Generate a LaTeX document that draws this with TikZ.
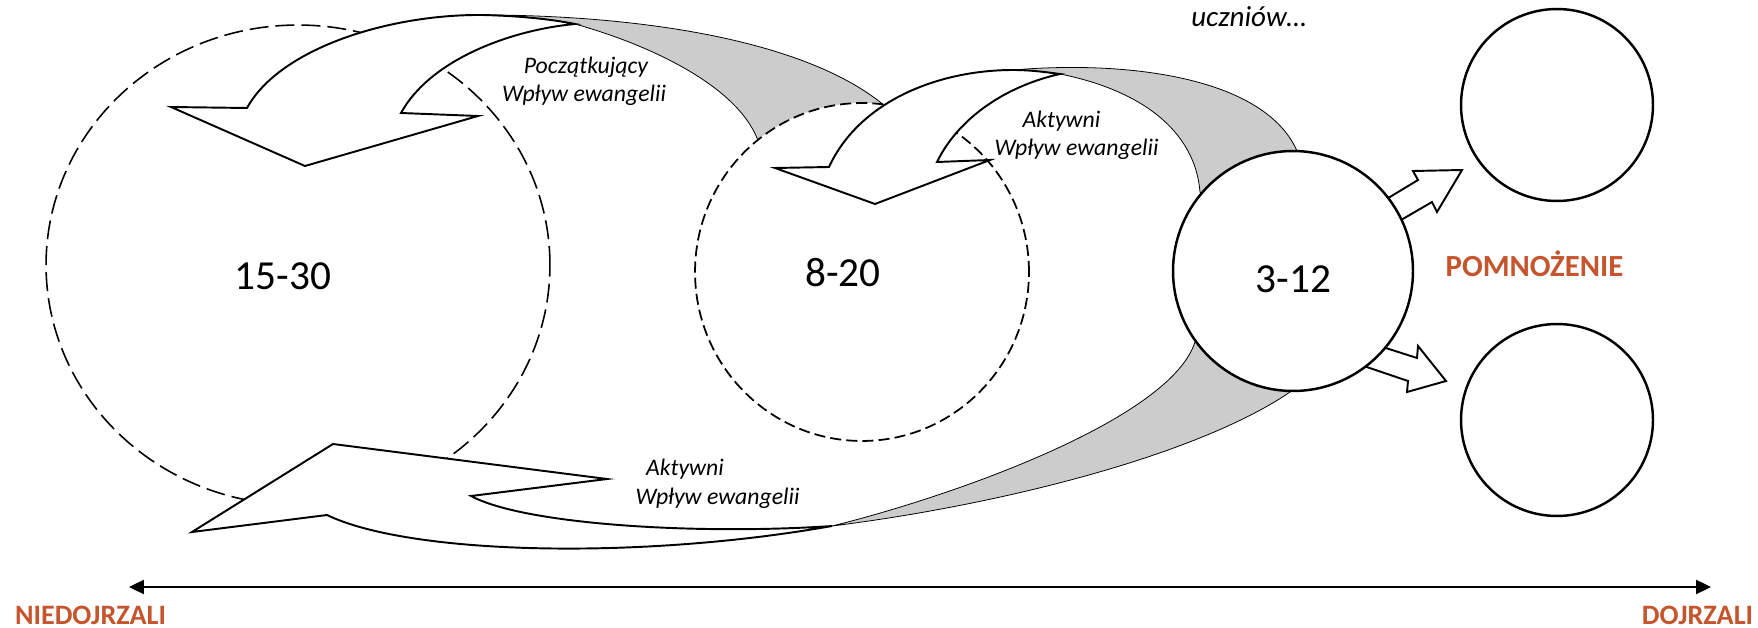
\documentclass[tikz,border=0pt]{standalone}
\usepackage{fontspec}
\setmainfont{Carlito}
\usetikzlibrary{shapes.geometric,arrows.meta}
\definecolor{backgray}{RGB}{204,204,204}
\definecolor{stagered}{RGB}{197,85,45}
\begin{document}
\begin{tikzpicture}[x=0.02cm,y=-0.02cm,
  bandfront/.style={fill=white,draw=black,line width=1.1pt,line join=miter},
  bandback/.style={fill=backgray,draw=black,line width=0.45pt},
  blockarrow/.style={fill=white,draw=black,line width=1.1pt,line join=miter},
  stage/.style={ellipse,inner sep=0pt,fill=white,draw=black},
  bigdash/.style={line width=0.9pt,dash pattern=on 10.8pt off 4pt},
  smalldash/.style={line width=1pt,dash pattern=on 6.3pt off 2.9pt},
  solidstage/.style={line width=1.4pt},
  countlabel/.style={anchor=base,inner sep=0pt,font=\fontsize{23.5}{28}\selectfont},
  flowlabel/.style={anchor=base,inner sep=0pt,font=\fontsize{13.5}{16}\selectfont\itshape},
  poletext/.style={anchor=base,inner sep=0pt,text depth=0pt,text=stagered,font=\fontsize{16}{19}\selectfont\bfseries},
]
\path[use as bounding box] (0,0) rectangle (1758,628);

% first group (widest, dashed)
\node[stage,bigdash,minimum width=10.08cm,minimum height=9.6cm] (grp1) at (298,265) {};

% curved arrow over the first group: back (grey) then front (white)
\path[bandback] (483,15) .. controls (620,15) and (800,35) .. (885,106)
  -- (890,150) -- (770,170) -- (757,138)
  .. controls (735,85) and (650,45) .. (575,24)
  .. controls (550,19) and (520,16) .. (483,15) -- cycle;
\path[bandfront] (171,107) -- (247,108)
  .. controls (280,48) and (390,14) .. (483,15)
  .. controls (520,16) and (550,19) .. (575,24)
  .. controls (510,30) and (430,60) .. (401,113)
  -- (478,116) -- (305,166) -- cycle;

% second group (dashed)
\node[stage,smalldash,minimum width=6.68cm,minimum height=6.76cm] (grp2) at (862,272) {};

% curved arrow over the second group
\path[bandback] (1013,70) .. controls (1130,60) and (1265,78) .. (1297,151)
  -- (1300,190) -- (1225,215) -- (1200,192)
  .. controls (1195,130) and (1140,90) .. (1060,74)
  .. controls (1045,72) and (1030,70) .. (1013,70) -- cycle;
\path[bandfront] (775,168) -- (829,167)
  .. controls (860,100) and (940,70) .. (1013,70)
  .. controls (1030,70) and (1045,72) .. (1060,74)
  .. controls (1010,85) and (960,115) .. (937,162)
  -- (990,160) -- (875,204) -- cycle;

% long arrow returning along the bottom
\path[bandback] (832,526) .. controls (950,497) and (1170,420) .. (1195,342)
  -- (1215,320) -- (1305,365) -- (1293,390)
  .. controls (1200,455) and (1000,505) .. (832,526) -- cycle;
\path[bandfront] (192,532) -- (333,444) -- (607,479) -- (471,496)
  .. controls (525,525) and (700,535) .. (832,526)
  .. controls (640,560) and (410,555) .. (327,515) -- cycle;

% multiplication arrows
\path[blockarrow] (1375,206) -- (1418,180) -- (1413,171) -- (1462,170)
  -- (1437,212) -- (1432,202) -- (1389,227) -- cycle;
\path[blockarrow] (1367,342) -- (1417,358) -- (1418,346) -- (1446,381)
  -- (1407,392) -- (1408,381) -- (1349,361) -- cycle;

% core group and the two new groups
\node[stage,solidstage,minimum size=4.8cm] (grp3) at (1293,271) {};
\node[stage,solidstage,minimum size=3.84cm] (new1) at (1557,105) {};
\node[stage,solidstage,minimum size=3.84cm] (new2) at (1557,420) {};

% counts
\node[countlabel] (n1) at (283,290) {15-30};
\node[countlabel] (n2) at (843,287) {8-20};
\node[countlabel] (n3) at (1293.5,293) {3-12};

% arrow captions
\node[flowlabel] (c1a) at (586,73.5) {Początkujący};
\node[flowlabel] (c1b) at (584,101.5) {Wpływ ewangelii};
\node[flowlabel] (c2a) at (1061.5,128) {Aktywni};
\node[flowlabel] (c2b) at (1076.5,156) {Wpływ ewangelii};
\node[flowlabel] (c3a) at (685,475) {Aktywni};
\node[flowlabel] (c3b) at (717.5,504) {Wpływ ewangelii};
\node[anchor=base,inner sep=0pt,font=\fontsize{16.5}{20}\selectfont\itshape] (top) at (1249,27) {uczniów…};

\node[poletext,font=\fontsize{17.5}{21}\selectfont\bfseries] (mult) at (1534.5,276) {POMNOŻENIE};

% maturity axis
\coordinate (axL) at (129,587);
\coordinate (axR) at (1711,587);
\draw[line width=1.1pt,{Triangle[length=8.5pt,width=8pt]}-{Triangle[length=8.5pt,width=8pt]}] (axL) -- (axR);
\node[poletext] (immature) at (90.5,624) {NIEDOJRZALI};
\node[poletext] (mature) at (1697.5,624) {DOJRZALI};
\end{tikzpicture}
\end{document}
